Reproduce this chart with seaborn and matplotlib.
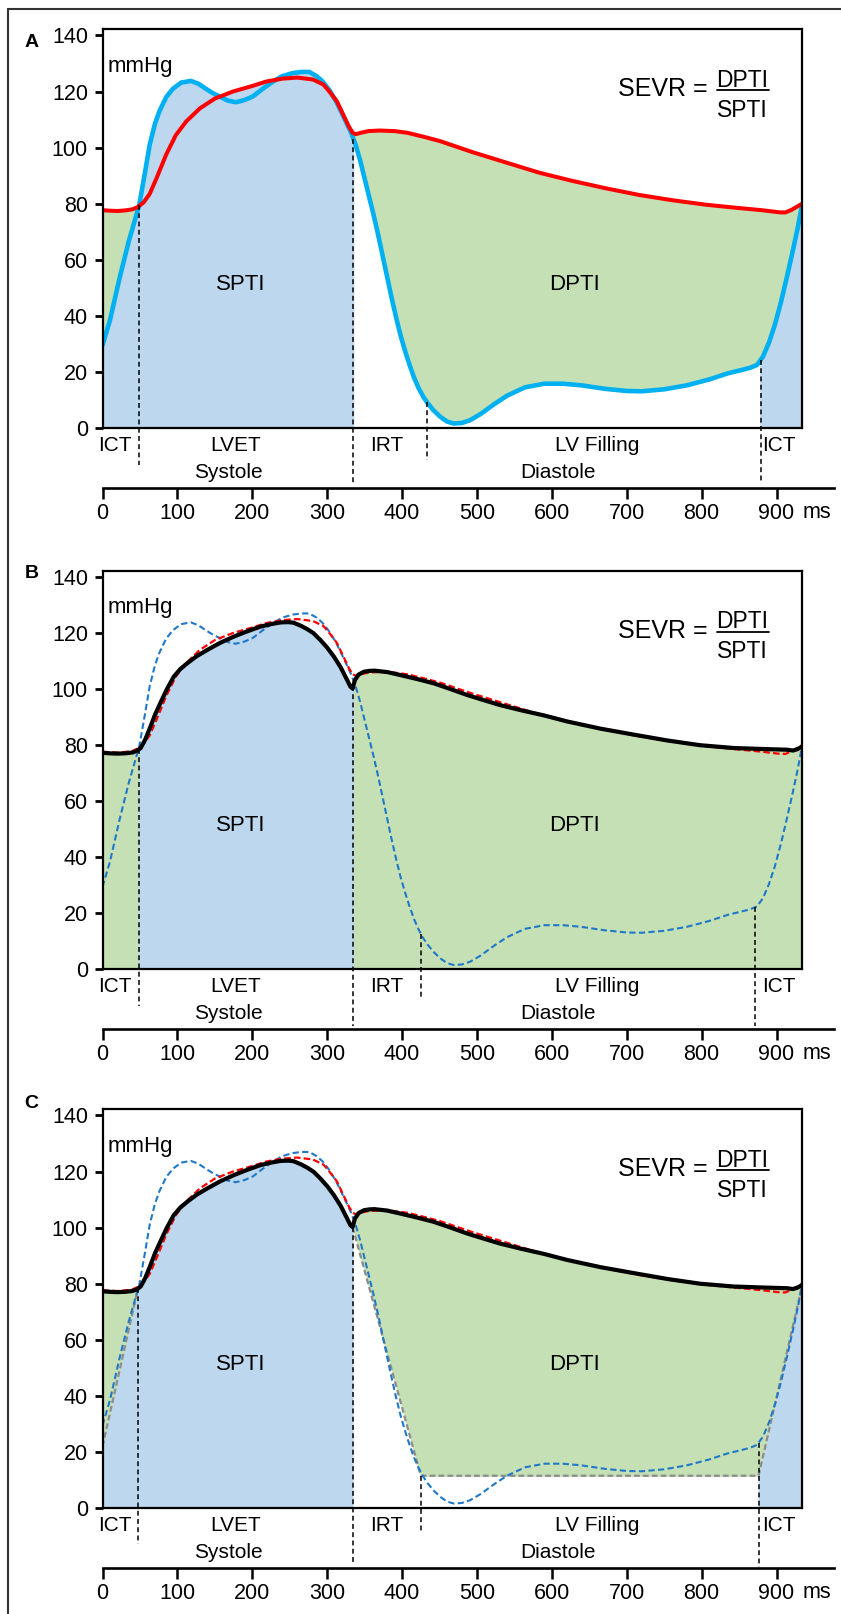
import numpy as np
import matplotlib
matplotlib.use("Agg")
import matplotlib.pyplot as plt
import seaborn as sns
from matplotlib.lines import Line2D

# ------------------------------------------------------------------ data
# aortic (radial-derived) pressure, mmHg  (red)
t_aortic = [0, 10, 20, 30, 40, 47, 55, 63, 72, 85, 98, 112, 130, 150, 174, 200,
            219, 240, 260, 281, 295, 303, 313, 321, 329, 334, 338, 345, 355, 370,
            390, 407, 430, 451, 494, 540, 584, 628, 672, 717, 762, 807, 852, 880,
            905, 912, 920, 929, 934]
p_aortic = [77.7, 77.5, 77.4, 77.6, 78.0, 78.8, 80.5, 83.5, 89.0, 97.5, 104.5,
            109.4, 114.0, 117.5, 120.0, 122.0, 123.6, 124.6, 125.0, 124.3, 122.5,
            120.0, 116.5, 112.0, 107.5, 105.3, 104.8, 105.3, 105.9, 106.1, 105.9,
            105.3, 103.8, 102.3, 98.4, 94.6, 91.0, 88.1, 85.5, 83.1, 81.2, 79.6,
            78.4, 77.7, 76.9, 76.9, 77.8, 79.2, 80.0]

# left-ventricular pressure, mmHg  (blue)
t_lv = [0, 10, 23, 35, 49, 56, 63, 70, 76, 85, 94, 105, 118, 128, 138, 147, 156,
        167, 178, 190, 201, 214, 228, 240, 254, 266, 276, 286, 294, 303, 312, 322,
        332, 338, 344, 350, 356, 362, 368, 374, 380, 386, 392, 398, 404, 410, 416,
        422, 428, 434, 442, 451, 460, 469, 480, 491, 505, 523, 540, 564, 590, 615,
        640, 670, 700, 720, 750, 780, 810, 835, 855, 865, 874, 882, 890, 898, 906,
        914, 922, 928, 934]
p_lv = [29.5, 38.5, 53.7, 66.5, 79.5, 90.0, 101.0, 108.5, 113.0, 118.0, 121.0,
        123.2, 123.8, 122.8, 121.0, 119.5, 118.3, 116.8, 116.2, 117.0, 118.3, 121.0,
        123.6, 125.5, 126.6, 127.0, 127.0, 125.5, 123.6, 120.5, 116.5, 111.0, 105.3,
        101.0, 95.5, 89.0, 82.5, 76.0, 69.0, 61.5, 54.0, 46.5, 39.5, 33.0, 27.5,
        22.5, 18.0, 14.3, 11.3, 8.9, 6.3, 4.0, 2.3, 1.6, 1.8, 2.8, 5.0, 8.5, 11.5,
        14.5, 15.8, 15.8, 15.2, 14.0, 13.2, 13.1, 13.8, 15.2, 17.3, 19.5, 20.8,
        21.5, 22.5, 25.5, 30.5, 37.0, 45.0, 54.0, 63.5, 71.0, 79.5]

# central aortic pressure, mmHg  (black)
t_central = [0, 10, 20, 30, 40, 46, 51, 57, 64, 70, 77, 86, 95, 104, 113, 126, 140,
             157, 175, 193, 211, 225, 238, 248, 255, 265, 274, 282, 291, 300, 309,
             318, 326, 331, 334, 337, 342, 349, 356, 363, 380, 398, 420, 442, 465,
             487, 510, 531, 560, 590, 620, 665, 709, 754, 798, 843, 887, 914, 922,
             928, 934]
p_central = [77.3, 77.1, 77.0, 77.1, 77.4, 78.0, 79.0, 82.0, 86.6, 90.8, 94.9,
             100.0, 104.4, 107.2, 109.2, 111.8, 114.0, 116.5, 118.7, 120.6, 122.3,
             123.2, 123.8, 123.9, 123.7, 122.6, 121.3, 119.9, 117.5, 114.8, 111.6,
             107.8, 103.6, 100.9, 100.2, 103.2, 105.2, 106.2, 106.5, 106.6, 106.1,
             105.0, 103.6, 102.1, 100.0, 97.9, 96.0, 94.3, 92.4, 90.6, 88.5, 85.9,
             83.8, 81.7, 80.0, 79.0, 78.6, 78.4, 78.1, 78.6, 79.5]

# estimated LV pressure boundary used in panel C (grey dashed)
t_est_left = [0, 48]
p_est_left = [22.0, 79.0]
t_est_right = [334, 425, 876, 934]
p_est_right = [100.2, 11.5, 11.5, 79.0]

# phase boundaries (ms) per panel
bounds_A = [49, 335, 433, 879]
bounds_B = [49, 335, 425, 871]
bounds_C = [48, 334, 425, 876]

y_ticks = [0, 20, 40, 60, 80, 100, 120, 140]
time_ticks = [0, 100, 200, 300, 400, 500, 600, 700, 800, 900]
phase_labels = ["ICT", "LVET", "IRT", "LV Filling", "ICT"]
phase_pos = [17, 178, 380, 660, 903]
period_labels = ["Systole", "Diastole"]
period_pos = [168, 608]
panel_letters = ["A", "B", "C"]

# ------------------------------------------------------------------ style
sns.set_style("ticks")
plt.rcParams["font.family"] = ["Liberation Sans", "DejaVu Sans"]
for k in ["text.color", "axes.labelcolor", "xtick.color", "ytick.color", "axes.edgecolor"]:
    plt.rcParams[k] = "black"

W, H = 841, 1614
GREEN = "#C5E0B4"
BLUEF = "#BDD7EE"
RED = "#FF0000"
CYAN = "#00B0F0"
DBLUE = "#1F78C8"
GREY = "#8C8C8C"

fig = plt.figure(figsize=(W / 100, H / 100), dpi=100)

ppu = 2.8036          # px per mmHg
ppm = 0.7489          # px per ms
x0 = 102.5            # px of t = 0
xr = 802.0            # px of right spine
zeros = [428.0, 969.5, 1508.0]
letter_y = [42.5, 574.0, 1104.0]

# outer frame
fig.add_artist(Line2D([8 / W, 8 / W], [1 - 9 / H, 0], color="#333333", lw=1.5))
fig.add_artist(Line2D([8 / W, 1], [1 - 9 / H, 1 - 9 / H], color="#333333", lw=1.5))

tg = np.union1d(np.union1d(t_aortic, t_lv), t_central)
tg = np.union1d(tg, np.array(bounds_A + bounds_B + bounds_C + t_est_left + t_est_right, float))
aor = np.interp(tg, t_aortic, p_aortic)
lv = np.interp(tg, t_lv, p_lv)
cen = np.interp(tg, t_central, p_central)
est_l = np.interp(tg, t_est_left, p_est_left)
est_r = np.interp(tg, t_est_right, p_est_right)

ymax = 142.3
xmax = (xr - x0) / ppm
fill_kw = dict(linewidth=0.6)


def vdash(ax, t, top, below_px):
    ax.plot([t, t], [top, -below_px / ppu], color="black", lw=1.1,
            ls=(0, (3.2, 2.2)), clip_on=False, zorder=6)


for i, zero in enumerate(zeros):
    top_px = zero - ymax * ppu
    ax = fig.add_axes([x0 / W, 1 - zero / H, (xr - x0) / W, (zero - top_px) / H])
    ax.set_xlim(0, xmax)
    ax.set_ylim(0, ymax)
    ax.set_facecolor("white")

    if i == 0:
        b1, b2, b3, b4 = bounds_A
        ax.fill_between(tg, 0, lv, where=(tg <= b1) | (tg >= b4), color=BLUEF, ec=BLUEF, **fill_kw)
        ax.fill_between(tg, 0, np.maximum(aor, lv), where=(tg >= b1) & (tg <= b2),
                        color=BLUEF, ec=BLUEF, **fill_kw)
        ax.fill_between(tg, lv, aor, where=(tg <= b1) | (tg >= b2), interpolate=True,
                        color=GREEN, ec=GREEN, **fill_kw)
        sns.lineplot(x=t_lv, y=p_lv, ax=ax, color=CYAN, lw=3.3, sort=False,
                     estimator=None, zorder=4)
        sns.lineplot(x=t_aortic, y=p_aortic, ax=ax, color=RED, lw=2.9, sort=False,
                     estimator=None, zorder=4)
        tops = [np.interp(b1, t_lv, p_lv), np.interp(b2, t_lv, p_lv),
                np.interp(b3, t_lv, p_lv), np.interp(b4, t_lv, p_lv)]
        below = [37, 57, 32, 55]
    else:
        b1, b2, b3, b4 = bounds_B if i == 1 else bounds_C
        if i == 1:
            ax.fill_between(tg, 0, cen, where=(tg <= b1) | (tg >= b2), color=GREEN, ec=GREEN, **fill_kw)
            ax.fill_between(tg, 0, cen, where=(tg >= b1) & (tg <= b2), color=BLUEF, ec=BLUEF, **fill_kw)
            tops = [np.interp(b1, t_central, p_central), np.interp(b2, t_central, p_central),
                    np.interp(b3, t_lv, p_lv), np.interp(b4, t_lv, p_lv)]
            below = [37, 57, 30, 57]
        else:
            ax.fill_between(tg, 0, est_l, where=tg <= b1, color=BLUEF, ec=BLUEF, **fill_kw)
            ax.fill_between(tg, 0, cen, where=(tg >= b1) & (tg <= b2), color=BLUEF, ec=BLUEF, **fill_kw)
            ax.fill_between(tg, 0, est_r, where=tg >= b4, color=BLUEF, ec=BLUEF, **fill_kw)
            ax.fill_between(tg, est_l, cen, where=tg <= b1, color=GREEN, ec=GREEN, **fill_kw)
            ax.fill_between(tg, est_r, cen, where=tg >= b2, color=GREEN, ec=GREEN, **fill_kw)
            for te, pe in [(t_est_left, p_est_left), (t_est_right, p_est_right)]:
                sns.lineplot(x=te, y=pe, ax=ax, color=GREY, lw=1.6, sort=False,
                             estimator=None, linestyle=(0, (2.6, 1.4)), zorder=3)
            tops = [np.interp(b1, t_central, p_central), np.interp(b2, t_central, p_central),
                    np.interp(b3, t_est_right, p_est_right), np.interp(b4, t_lv, p_lv)]
            below = [36, 57, 25, 59]
        sns.lineplot(x=t_lv, y=p_lv, ax=ax, color=DBLUE, lw=1.5, sort=False,
                     estimator=None, linestyle=(0, (3.0, 1.6)), zorder=4)
        sns.lineplot(x=t_aortic, y=p_aortic, ax=ax, color=RED, lw=1.6, sort=False,
                     estimator=None, linestyle=(0, (3.0, 1.4)), zorder=4)
        sns.lineplot(x=t_central, y=p_central, ax=ax, color="black", lw=3.0, sort=False,
                     estimator=None, zorder=5)

    for t, tp, bp in zip([b1, b2, b3, b4], tops, below):
        vdash(ax, t, tp, bp)

    # axes styling
    for s in ax.spines.values():
        s.set_linewidth(1.6)
        s.set_zorder(7)
    ax.set_xticks([])
    ax.set_yticks(y_ticks)
    ax.tick_params(axis="y", direction="out", length=5.5, width=2.0, pad=5,
                   labelsize=15.5)
    ax.set_xlabel("")
    ax.set_ylabel("")

    # texts
    ax.text(6.4, 127.1, "mmHg", fontsize=16, ha="left", va="baseline")
    ax.text(185, 49.4, "SPTI", fontsize=16, ha="center", va="baseline")
    ax.text(630, 49.4, "DPTI", fontsize=16, ha="center", va="baseline")
    ax.text(808.5, 118.4, "SEVR =", fontsize=18, ha="right", va="baseline")
    ax.text(854.6, 121.7, "DPTI", fontsize=16.5, ha="center", va="baseline")
    ax.text(854.6, 111.0, "SPTI", fontsize=16.5, ha="center", va="baseline")
    ax.plot([820, 890], [120.5, 120.5], color="black", lw=1.3, zorder=6)

    for lab, t in zip(phase_labels, phase_pos):
        ax.text(t, -23 / ppu, lab, fontsize=15, ha="center", va="baseline", clip_on=False)
    for lab, t in zip(period_labels, period_pos):
        ax.text(t, -50 / ppu, lab, fontsize=15, ha="center", va="baseline", clip_on=False)

    fig.text(31.5 / W, 1 - letter_y[i] / H, panel_letters[i], fontsize=14,
             fontweight="bold", ha="center", va="center")

    # time axis
    line_px = zero + 59.5
    tax = fig.add_axes([x0 / W, 1 - line_px / H, (834 - x0) / W, 0.0005])
    tax.set_xlim(0, (834 - x0) / ppm)
    tax.patch.set_visible(False)
    for side in ["top", "left", "right"]:
        tax.spines[side].set_visible(False)
    tax.spines["bottom"].set_linewidth(1.9)
    tax.set_yticks([])
    tax.set_xticks(time_ticks)
    tax.tick_params(axis="x", direction="out", length=8, width=1.8, pad=3,
                    labelsize=15.5)
    tax.annotate("ms", xy=(954, 0), xycoords=("data", "axes fraction"),
                 xytext=(0, -30), textcoords="offset pixels", fontsize=15.5,
                 ha="center", va="baseline", annotation_clip=False)

fig.savefig("out.png", dpi=100)
